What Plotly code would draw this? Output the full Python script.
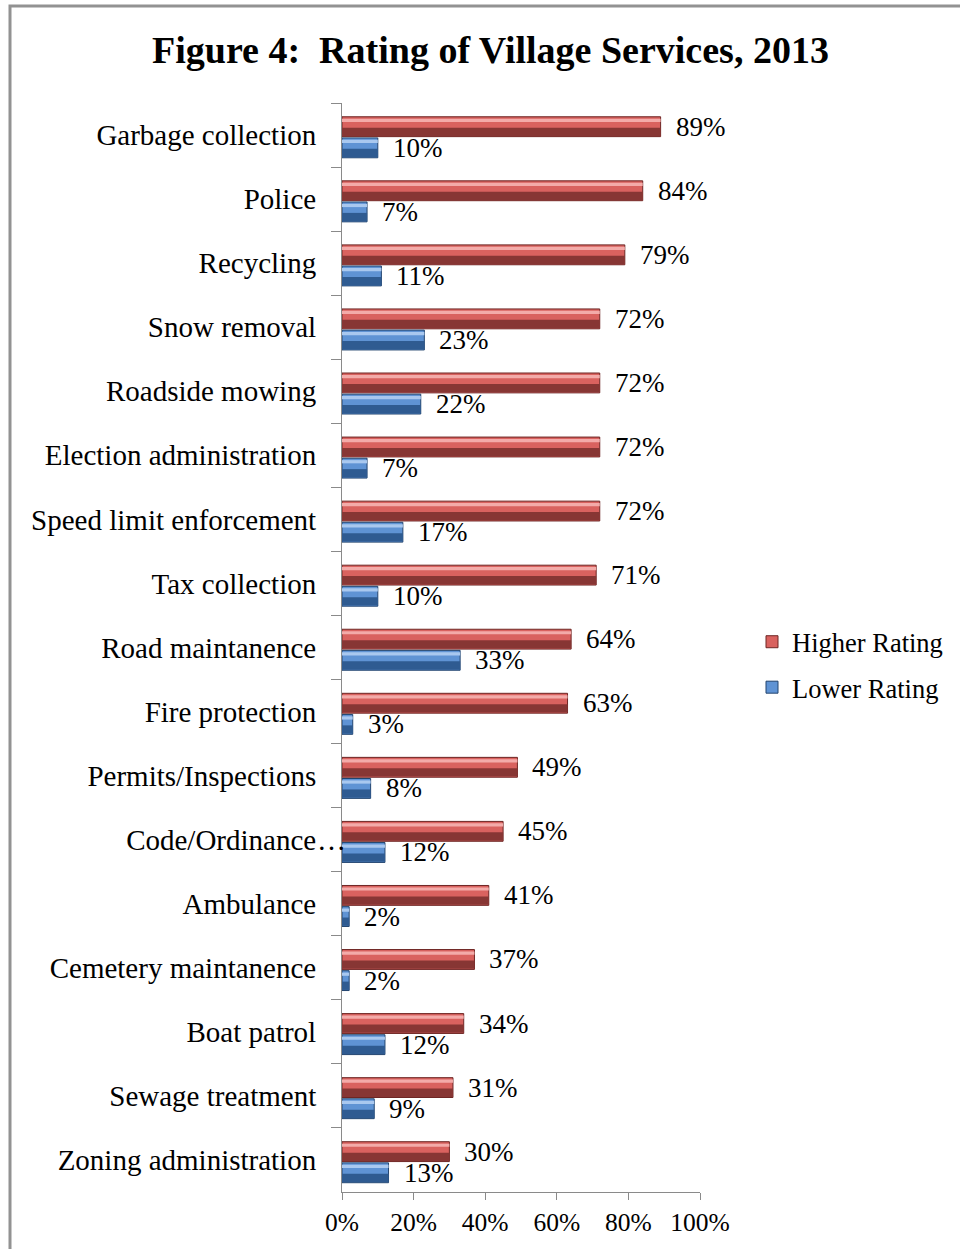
import plotly.graph_objects as go

# Survey results: share of respondents giving each rating (%)
services = [
    "Garbage collection", "Police", "Recycling", "Snow removal",
    "Roadside mowing", "Election administration", "Speed limit enforcement",
    "Tax collection", "Road maintanence", "Fire protection",
    "Permits/Inspections", "Code/Ordinance", "Ambulance",
    "Cemetery maintanence", "Boat patrol", "Sewage treatment",
    "Zoning administration",
]
higher_rating = [89, 84, 79, 72, 72, 72, 72, 71, 64, 63, 49, 45, 41, 37, 34, 31, 30]
lower_rating = [10, 7, 11, 23, 22, 7, 17, 10, 33, 3, 8, 12, 2, 2, 12, 9, 13]
x_ticks = [0, 20, 40, 60, 80, 100]

SERIF = "Liberation Serif, Times New Roman, serif"
BAR_W = 0.31  # thickness of one bar in category units

# (name, values, offset, body, highlight, shadow, outline)
series = [
    ("Higher Rating", higher_rating, -0.285, "#D9625F", "#F3ABA9", "#873634", "#6E2624"),
    ("Lower Rating", lower_rating, 0.045, "#5F93D4", "#A9C8EF", "#2F5B91", "#22446E"),
]

fig = go.Figure()
for name, vals, off, body, hi, sh, ol in series:
    # main body of the bar (shown in legend)
    fig.add_trace(go.Bar(
        y=services, x=vals, orientation="h", name=name,
        offset=off, width=BAR_W, legendgroup=name,
        marker=dict(color=body, line=dict(color=ol, width=1)),
        hoverinfo="skip",
    ))
    # light bevel along the top edge
    fig.add_trace(go.Bar(
        y=services, x=vals, orientation="h", showlegend=False,
        offset=off + 0.03, width=0.05, legendgroup=name,
        marker=dict(color=hi, line=dict(width=0)), hoverinfo="skip",
    ))
    # dark shading along the bottom half
    fig.add_trace(go.Bar(
        y=services, x=vals, orientation="h", showlegend=False,
        offset=off + BAR_W * 0.55, width=BAR_W * 0.42, legendgroup=name,
        marker=dict(color=sh, line=dict(width=0)), hoverinfo="skip",
    ))

# value labels to the right of each bar
annotations = []
for name, vals, off, *_ in series:
    centre_px = (off + BAR_W / 2) * 64.06
    for s, v in zip(services, vals):
        annotations.append(dict(
            x=v, y=s, xref="x", yref="y", text=f"{v}%", showarrow=False,
            xanchor="left", yanchor="middle", xshift=13, yshift=-centre_px,
            font=dict(family=SERIF, size=27, color="#000000"),
        ))

# ellipsis of the truncated category label runs past the label column
annotations.append(dict(
    x=0, y="Code/Ordinance", xref="paper", yref="y", text="…",
    showarrow=False, xanchor="left", yanchor="middle", xshift=-27,
    font=dict(family=SERIF, size=29, color="#000000"),
))

annotations.append(dict(
    x=(490 - 342) / 358, y=(1192 - 50) / 1089, xref="paper", yref="paper",
    text="<b>Figure 4:\u00a0 Rating of Village Services, 2013</b>",
    showarrow=False, xanchor="center", yanchor="middle",
    font=dict(family=SERIF, size=38, color="#000000"),
))

fig.update_layout(
    width=960, height=1249,
    margin=dict(l=342, r=260, t=103, b=57),
    paper_bgcolor="white", plot_bgcolor="white",
    barmode="overlay",
    bargap=0.3,
    showlegend=True,
    legend=dict(
        x=(752 - 342) / 358, y=(1192 - 618) / 1089, xanchor="left", yanchor="top",
        font=dict(family=SERIF, size=26.5, color="#000000"),
        itemwidth=30, tracegroupgap=8, bgcolor="rgba(0,0,0,0)",
    ),
    annotations=annotations,
    shapes=[dict(
        type="rect", xref="paper", yref="paper",
        x0=(10 - 342) / 358, x1=(975 - 342) / 358,
        y0=(1192 - 1262) / 1089, y1=(1192 - 6) / 1089,
        line=dict(color="#929292", width=3), fillcolor="rgba(0,0,0,0)",
        layer="below",
    )],
    xaxis=dict(
        range=[0, 100], tickvals=x_ticks, ticktext=[f"{t}%" for t in x_ticks],
        showgrid=False, zeroline=False,
        showline=True, linecolor="#8a8a8a", linewidth=1,
        ticks="outside", ticklen=7, tickcolor="#8a8a8a",
        tickfont=dict(family=SERIF, size=25.5, color="#000000"),
    ),
    yaxis=dict(
        type="category", categoryorder="array", categoryarray=services,
        autorange="reversed",
        showgrid=False, zeroline=False,
        showline=True, linecolor="#8a8a8a", linewidth=1,
        ticks="outside", ticklen=10, tickcolor="#8a8a8a", tickson="boundaries",
        ticklabelstandoff=19,
        tickfont=dict(family=SERIF, size=29, color="#000000"),
    ),
)

fig.write_html("out.html")
